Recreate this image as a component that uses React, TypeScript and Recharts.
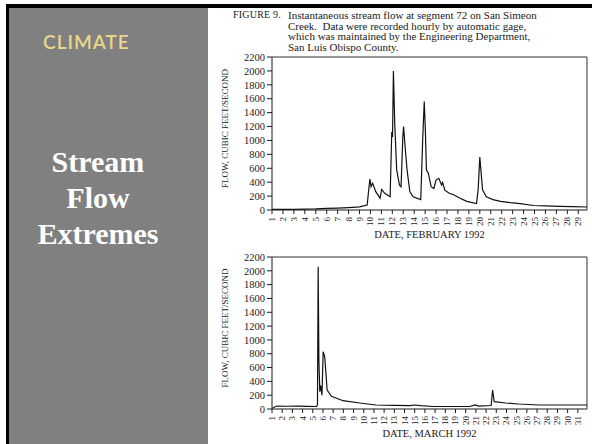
import React from 'react';
import { LineChart, Line, XAxis, YAxis, ReferenceLine } from 'recharts';

// February 1992 (day of month, flow cfs)
const febDay = [1, 2, 3, 4, 5, 6, 7, 8, 9, 9.7, 9.85, 9.95, 10.06, 10.2, 10.5, 10.88, 11.03, 11.3, 11.8, 11.95, 12.02, 12.1, 12.22, 12.4, 12.65, 12.8, 12.96, 13.03, 13.15, 13.35, 13.6, 13.9, 14.6, 14.78, 14.92, 15.02, 15.12, 15.3, 15.55, 15.8, 16.0, 16.25, 16.5, 16.6, 16.8, 17.2, 17.6, 18.2, 18.8, 19.7, 19.85, 20.0, 20.25, 20.6, 21.2, 21.9, 22.8, 23.7, 24.9, 26, 27.3, 28.5, 29.8];
const febFlow = [8, 8, 10, 12, 15, 22, 28, 35, 45, 70, 300, 445, 335, 385, 260, 170, 295, 240, 190, 1120, 1050, 2000, 1250, 575, 360, 335, 1050, 1200, 950, 575, 265, 190, 150, 1030, 1560, 1150, 575, 525, 335, 310, 430, 455, 360, 395, 285, 240, 220, 170, 125, 92, 300, 760, 290, 190, 150, 125, 105, 92, 65, 58, 52, 48, 43];

// March 1992 (day of month, flow cfs)
const marDay = [1, 1.46, 2.5, 3.5, 4.5, 5.37, 5.46, 5.53, 5.6, 5.69, 5.78, 5.9, 6.02, 6.17, 6.41, 6.83, 7.97, 9.6, 11.2, 13, 14.5, 15, 15.6, 16.8, 18.5, 20.4, 20.9, 21.3, 22.5, 22.64, 22.8, 23.9, 25.2, 27.2, 29.5, 31.9];
const marFlow = [10, 43, 40, 42, 38, 36, 60, 2060, 700, 250, 340, 200, 830, 760, 275, 183, 120, 87, 58, 52, 48, 58, 48, 36, 36, 36, 58, 43, 50, 275, 106, 87, 72, 58, 58, 58];

const febTicks = Array.from({ length: 29 }, (_, i) => i + 1);
const marTicks = Array.from({ length: 31 }, (_, i) => i + 1);
const yTicks = [0, 200, 400, 600, 800, 1000, 1200, 1400, 1600, 1800, 2000, 2200];

const febData = febDay.map((d, i) => ({ day: d, flow: febFlow[i] }));
const marData = marDay.map((d, i) => ({ day: d, flow: marFlow[i] }));

const SERIF = '"Liberation Serif", "DejaVu Serif", serif';
const INK = '#1a1a1a';

const XTick = (props: any) => {
  const { x, y, payload } = props;
  return (
    <text
      x={x}
      y={y}
      transform={`rotate(-90 ${x} ${y})`}
      textAnchor="end"
      dominantBaseline="central"
      fontSize={9}
      fontFamily={SERIF}
      fill={INK}
    >
      {payload.value}
    </text>
  );
};

const YLabel = (props: any) => {
  const { viewBox } = props;
  const cx = viewBox.x + 7;
  const cy = viewBox.y + viewBox.height / 2 - 5;
  return (
    <text
      x={cx}
      y={cy}
      transform={`rotate(-90 ${cx} ${cy})`}
      textAnchor="middle"
      dominantBaseline="central"
      fontSize={9}
      fontFamily={SERIF}
      fill={INK}
    >
      FLOW, CUBIC FEET/SECOND
    </text>
  );
};

function FlowChart(props: {
  data: { day: number; flow: number }[];
  ticks: number[];
  xMax: number;
  xLabel: string;
  height: number;
  bottom: number;
}) {
  const { data, ticks, xMax, xLabel, height, bottom } = props;
  return (
    <LineChart width={382} height={height} data={data} margin={{ top: 7, right: 5, left: 8, bottom }}>
      <XAxis
        dataKey="day"
        type="number"
        domain={[1, xMax]}
        ticks={ticks}
        interval={0}
        allowDataOverflow
        height={30}
        tickSize={4}
        tickMargin={3}
        stroke={INK}
        tick={<XTick />}
        label={{ value: xLabel, position: 'insideBottom', offset: 2, fontSize: 10.5, fontFamily: SERIF, fill: INK }}
      />
      <YAxis
        type="number"
        domain={[0, 2200]}
        ticks={yTicks}
        interval={0}
        width={54}
        tickSize={5}
        tickMargin={2}
        stroke={INK}
        tick={{ fontSize: 10.5, fontFamily: SERIF, fill: INK }}
        label={<YLabel />}
      />
      <ReferenceLine y={2200} stroke="#333" strokeWidth={1} />
      <ReferenceLine x={xMax} stroke="#333" strokeWidth={1} />
      <Line type="linear" dataKey="flow" stroke="#111" strokeWidth={1.2} dot={false} isAnimationActive={false} />
    </LineChart>
  );
}

export default function App() {
  return (
    <div style={{ position: 'absolute', left: 0, top: 0, width: 592, height: 444, background: '#fff', overflow: 'hidden' }}>
      {/* black frame */}
      <div style={{ position: 'absolute', left: 6, top: 4, width: 586, height: 4, background: '#000' }} />
      <div style={{ position: 'absolute', left: 6, top: 4, width: 3, height: 440, background: '#000' }} />
      {/* gray side panel */}
      <div style={{ position: 'absolute', left: 9, top: 8, width: 199, height: 436, background: '#808080' }} />
      <div
        style={{
          position: 'absolute',
          left: 43,
          top: 32,
          fontFamily: 'Lato, "Open Sans", sans-serif',
          fontWeight: 600,
          fontSize: 19,
          lineHeight: '19px',
          color: '#EAD68A',
          letterSpacing: 1,
        }}
      >
        CLIMATE
      </div>
      <div
        style={{
          position: 'absolute',
          left: 9,
          top: 144,
          width: 178,
          textAlign: 'center',
          fontFamily: SERIF,
          fontWeight: 700,
          fontSize: 30,
          lineHeight: '36px',
          color: '#fff',
        }}
      >
        Stream
        <br />
        Flow
        <br />
        Extremes
      </div>
      {/* caption */}
      <div style={{ position: 'absolute', left: 233, top: 10, fontFamily: SERIF, fontSize: 10, lineHeight: '10.5px', color: INK, letterSpacing: 0.2 }}>
        FIGURE 9.
      </div>
      <div style={{ position: 'absolute', left: 288, top: 10, fontFamily: SERIF, fontSize: 11, lineHeight: '10.5px', color: INK, whiteSpace: 'nowrap' }}>
        Instantaneous stream flow at segment 72 on San Simeon
        <br />
        Creek.&nbsp; Data were recorded hourly by automatic gage,
        <br />
        which was maintained by the Engineering Department,
        <br />
        San Luis Obispo County.
      </div>
      {/* charts */}
      <div style={{ position: 'absolute', left: 210, top: 50 }}>
        <FlowChart data={febData} ticks={febTicks} xMax={29.8} xLabel="DATE, FEBRUARY 1992" height={200} bottom={10} />
      </div>
      <div style={{ position: 'absolute', left: 210, top: 250 }}>
        <FlowChart data={marData} ticks={marTicks} xMax={31.9} xLabel="DATE, MARCH 1992" height={194} bottom={5} />
      </div>
    </div>
  );
}
